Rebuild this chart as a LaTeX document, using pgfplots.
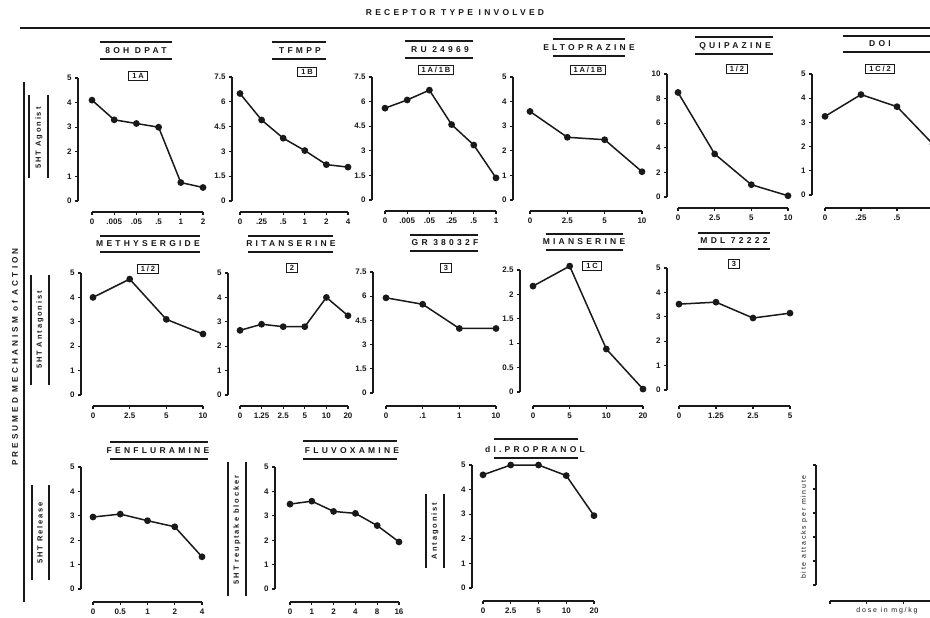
\documentclass[border=0pt]{standalone}
\usepackage{pgfplots}
\pgfplotsset{compat=1.18}
\usepackage{fontspec}
\setmainfont{Liberation Sans}
\newfontfamily\spfont[LetterSpace=38]{Liberation Sans}
\newfontfamily\lsfont[LetterSpace=25]{Liberation Sans}
\newcommand\tfont{\spfont\bfseries\fontsize{8.5}{9}\selectfont}
\newcommand\bxfont{\lsfont\bfseries\fontsize{7.5}{8}\selectfont}
\newcommand\lfont{\lsfont\bfseries\fontsize{7.5}{8}\selectfont}
\definecolor{ink}{gray}{0.1}
\pgfplotsset{
 panel/.style={
  scale only axis, axis lines=left, separate axis lines,
  axis line style={-, line width=1.3pt, ink},
  xmin=0, ymin=0, enlargelimits=false, clip=false,
  tick align=outside, major tick length=3pt,
  every tick/.style={ink, line width=1.1pt},
  tick label style={font=\fontsize{8}{9}\selectfont\bfseries, text=ink},
  /pgf/number format/assume math mode=true,
  every axis plot post/.append style={ink, line width=1.5pt, mark=*, mark size=2.6pt, mark options={fill=ink, draw=ink, solid}},
 },
}
% title: cx, cy, text, x1, x2, y-over, y-under
\newcommand\ttl[7]{%
  \node[font=\tfont, text=ink] at (#1,-#2) {#3};
  \draw[line width=1.4pt, ink] (#4,-#6) -- (#5,-#6);
  \draw[line width=1.4pt, ink] (#4,-#7) -- (#5,-#7);
}
\newcommand\bx[3]{\node[draw=ink, line width=1.2pt, inner xsep=3.5pt, inner ysep=2pt, font=\bxfont, text=ink] at (#1,-#2) {#3};}
% rotated label: cx, cy, text, xleft, xright, y1, y2
\newcommand\rl[7]{%
  \node[rotate=90, font=\lfont, text=ink] at (#1,-#2) {#3};
  \draw[line width=1.3pt, ink] (#4,-#6) -- (#4,-#7);
  \draw[line width=1.3pt, ink] (#5,-#6) -- (#5,-#7);
}
\begin{document}
\begin{tikzpicture}
\path[use as bounding box] (0pt,-618pt) rectangle (930pt,0pt);
\clip (0pt,-618pt) rectangle (930pt,0pt);
\begin{scope}[x=1pt,y=1pt]
\fill[white] (0,-618) rectangle (930,0);
\node[font=\spfont\bfseries\fontsize{8.5}{9}\selectfont, text=ink] at (455,-13) {RECEPTOR TYPE INVOLVED};
\draw[line width=1.6pt, ink] (20,-28) -- (930,-28);
\node[rotate=90, font=\spfont\bfseries\fontsize{8.2}{9}\selectfont, text=ink] at (15,-357) {PRESUMED MECHANISM of ACTION};
\draw[line width=1.3pt, ink] (24,-82) -- (24,-602);
\rl{39}{138}{5HT Agonist}{29}{48}{95}{178}
\rl{40}{330}{5HT Antagonist}{31}{49}{275}{385}
\rl{40}{533}{5HT Release}{32}{49}{485}{580}
\rl{237}{530}{5HT reuptake blocker}{228}{246}{462}{596}
\rl{435}{531}{Antagonist}{426}{444}{494}{568}
% titles row 1
\ttl{136}{51}{8OH DPAT}{100}{172}{42}{59}
\ttl{300}{51}{TFMPP}{272}{326}{42}{59}
\ttl{440}{50}{RU 24969}{405}{473}{41}{58}
\ttl{589}{48}{ELTOPRAZINE}{553}{625}{39}{56}
\ttl{735}{46}{QUIPAZINE}{695}{773}{37}{54}
\ttl{880}{44}{DOI}{843}{935}{36}{52}
\bx{138}{76}{1A}
\bx{307}{72}{1B}
\bx{436}{70}{1A/1B}
\bx{588}{70}{1A/1B}
\bx{737}{69}{1/2}
\bx{880}{69}{1C/2}
% row 2
\ttl{148}{244}{METHYSERGIDE}{100}{200}{236}{252}
\ttl{291}{244}{RITANSERINE}{248}{333}{236}{252}
\ttl{445}{243}{GR 38032F}{410}{478}{235}{251}
\ttl{584}{242}{MIANSERINE}{546}{623}{234}{250}
\ttl{734}{241}{MDL 72222}{698}{770}{233}{249}
\bx{148}{269}{1/2}
\bx{292}{268}{2}
\bx{446}{268}{3}
\bx{592}{266}{1C}
\bx{734}{264}{3}
% row 3
\ttl{158}{451}{FENFLURAMINE}{110}{208}{442}{459}
\ttl{352}{451}{FLUVOXAMINE}{303}{397}{441}{459}
\ttl{535}{449}{dl.PROPRANOL}{494}{578}{439}{458}
\node[rotate=90, font=\lsfont\fontsize{7}{8}\selectfont, text=ink] at (804,-527) {bite attacks per minute};
\node[font=\lsfont\fontsize{7}{8}\selectfont, text=ink] at (887,-611) {dose in mg/kg};
\end{scope}
% ---------- Row 1
\begin{axis}[panel, at={(92pt,-201pt)}, anchor=south west, width=111pt, height=123pt,
  xmax=5, ymax=5, ytick={0,1,2,3,4,5}, xtick={0,1,2,3,4,5}, xticklabels={0,.005,.05,.5,1,2},
  axis y line shift=14pt, axis x line shift=11pt]
\addplot coordinates {(0,4.1)(1,3.3)(2,3.15)(3,3.0)(4,0.75)(5,0.55)};
\end{axis}
\begin{axis}[panel, at={(240pt,-201pt)}, anchor=south west, width=108pt, height=124pt,
  xmax=5, ymax=7.5, ytick={0,1.5,3,4.5,6,7.5}, xtick={0,1,2,3,4,5}, xticklabels={0,.25,.5,1,2,4},
  axis y line shift=8pt, axis x line shift=11pt]
\addplot coordinates {(0,6.5)(1,4.9)(2,3.8)(3,3.05)(4,2.2)(5,2.05)};
\end{axis}
\begin{axis}[panel, at={(385pt,-200pt)}, anchor=south west, width=111pt, height=123pt,
  xmax=5, ymax=7.5, ytick={0,1.5,3,4.5,6,7.5}, xtick={0,1,2,3,4,5}, xticklabels={0,.005,.05,.25,.5,1},
  axis y line shift=13pt, axis x line shift=11pt]
\addplot coordinates {(0,5.6)(1,6.1)(2,6.7)(3,4.6)(4,3.35)(5,1.35)};
\end{axis}
\begin{axis}[panel, at={(530pt,-200pt)}, anchor=south west, width=112pt, height=123pt,
  xmax=3, ymax=5, ytick={0,1,2,3,4,5}, xtick={0,1,2,3}, xticklabels={0,2.5,5,10},
  axis y line shift=17pt, axis x line shift=11pt]
\addplot coordinates {(0,3.6)(1,2.55)(2,2.45)(3,1.15)};
\end{axis}
\begin{axis}[panel, at={(678pt,-197pt)}, anchor=south west, width=110pt, height=123pt,
  xmax=3, ymax=10, ytick={0,2,4,6,8,10}, xtick={0,1,2,3}, xticklabels={0,2.5,5,10},
  axis y line shift=11pt, axis x line shift=11pt]
\addplot coordinates {(0,8.5)(1,3.5)(2,1.0)(3,0.1)};
\end{axis}
\begin{axis}[panel, at={(825pt,-195pt)}, anchor=south west, width=108pt, height=121pt,
  xmax=3, ymax=5, ytick={0,1,2,3,4,5}, xtick={0,1,2,3}, xticklabels={0,.25,.5,{}},
  axis y line shift=13pt, axis x line shift=13pt]
\addplot coordinates {(0,3.25)(1,4.15)(2,3.65)(3,2.1)};
\end{axis}
% ---------- Row 2
\begin{axis}[panel, at={(93pt,-395pt)}, anchor=south west, width=110pt, height=122pt,
  xmax=3, ymax=5, ytick={0,1,2,3,4,5}, xtick={0,1,2,3}, xticklabels={0,2.5,5,10},
  axis y line shift=12pt, axis x line shift=11pt]
\addplot coordinates {(0,4.0)(1,4.75)(2,3.1)(3,2.5)};
\end{axis}
\begin{axis}[panel, at={(240pt,-395pt)}, anchor=south west, width=108pt, height=122pt,
  xmax=5, ymax=5, ytick={0,1,2,3,4,5}, xtick={0,1,2,3,4,5}, xticklabels={0,1.25,2.5,5,10,20},
  axis y line shift=12pt, axis x line shift=11pt]
\addplot coordinates {(0,2.65)(1,2.9)(2,2.8)(3,2.8)(4,4.0)(5,3.25)};
\end{axis}
\begin{axis}[panel, at={(386pt,-393pt)}, anchor=south west, width=110pt, height=121pt,
  xmax=3, ymax=7.5, ytick={0,1.5,3,4.5,6,7.5}, xtick={0,1,2,3}, xticklabels={0,.1,1,10},
  axis y line shift=13pt, axis x line shift=13pt]
\addplot coordinates {(0,5.9)(1,5.5)(2,4.0)(3,4.0)};
\end{axis}
\begin{axis}[panel, at={(533pt,-392pt)}, anchor=south west, width=110pt, height=122pt,
  xmax=3, ymax=2.5, ytick={0,0.5,1,1.5,2,2.5}, xtick={0,1,2,3}, xticklabels={0,5,10,20},
  axis y line shift=13pt, axis x line shift=14pt]
\addplot coordinates {(0,2.17)(1,2.58)(2,0.88)(3,0.06)};
\end{axis}
\begin{axis}[panel, at={(679pt,-390pt)}, anchor=south west, width=111pt, height=122pt,
  xmax=3, ymax=5, ytick={0,1,2,3,4,5}, xtick={0,1,2,3}, xticklabels={0,1.25,2.5,5},
  axis y line shift=12pt, axis x line shift=16pt]
\addplot coordinates {(0,3.52)(1,3.6)(2,2.95)(3,3.15)};
\end{axis}
% ---------- Row 3
\begin{axis}[panel, at={(93pt,-589pt)}, anchor=south west, width=109pt, height=122pt,
  xmax=4, ymax=5, ytick={0,1,2,3,4,5}, xtick={0,1,2,3,4}, xticklabels={0,0.5,1,2,4},
  axis y line shift=12pt, axis x line shift=13pt]
\addplot coordinates {(0,2.95)(1,3.07)(2,2.8)(3,2.55)(4,1.32)};
\end{axis}
\begin{axis}[panel, at={(290pt,-589pt)}, anchor=south west, width=109pt, height=122pt,
  xmax=5, ymax=5, ytick={0,1,2,3,4,5}, xtick={0,1,2,3,4,5}, xticklabels={0,1,2,4,8,16},
  axis y line shift=15pt, axis x line shift=13pt]
\addplot coordinates {(0,3.48)(1,3.6)(2,3.18)(3,3.1)(4,2.6)(5,1.93)};
\end{axis}
\begin{axis}[panel, at={(483pt,-588pt)}, anchor=south west, width=111pt, height=123pt,
  xmax=4, ymax=5, ytick={0,1,2,3,4,5}, xtick={0,1,2,3,4}, xticklabels={0,2.5,5,10,20},
  axis y line shift=11pt, axis x line shift=13pt]
\addplot coordinates {(0,4.6)(1,5.0)(2,5.0)(3,4.57)(4,2.94)};
\end{axis}
% ---------- key axis (empty)
\begin{axis}[panel, at={(830pt,-585pt)}, anchor=south west, width=110pt, height=120pt,
  xmax=3, ymax=5, ytick={0,1,2,3,4,5}, xtick={0,1,2,3}, xticklabels={}, yticklabels={},
  axis y line shift=14pt, axis x line shift=16pt]
\end{axis}
\end{tikzpicture}
\end{document}
